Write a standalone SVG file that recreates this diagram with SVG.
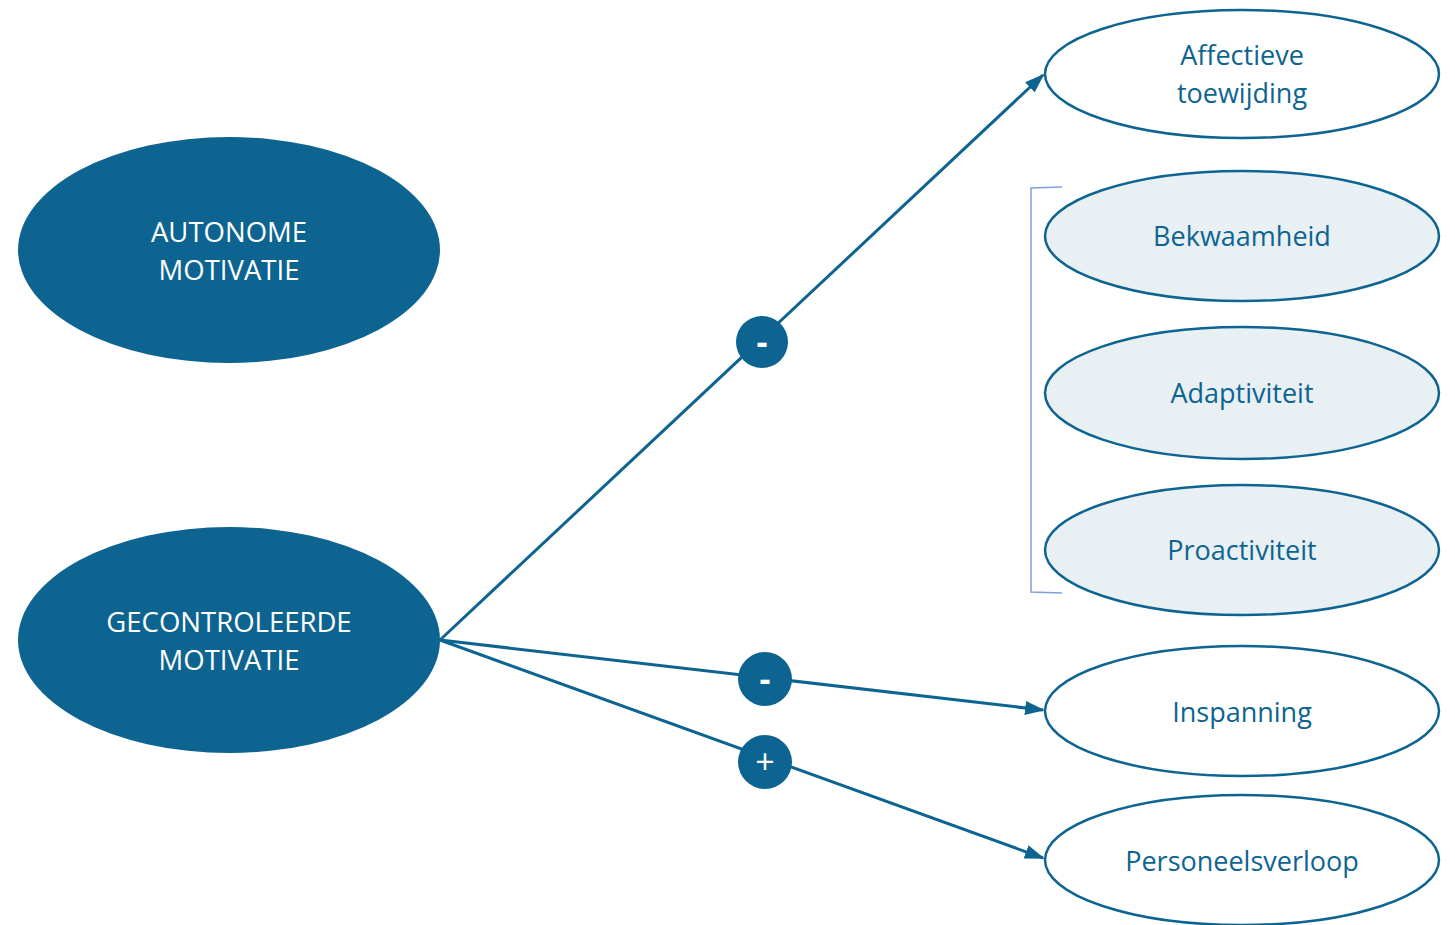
<svg xmlns="http://www.w3.org/2000/svg" width="1455" height="925" viewBox="0 0 1455 925">
<style>
.big{fill:#0E6490;}
.bigt{fill:#ffffff;font-family:"Open Sans",sans-serif;font-size:27.5px;text-anchor:middle;}
.out{fill:#ffffff;stroke:#0E6490;stroke-width:2.5;}
.med{fill:#E8F0F4;stroke:#0E6490;stroke-width:2.5;}
.t{fill:#0E6490;font-family:"Open Sans",sans-serif;font-size:27px;text-anchor:middle;}
.ln{stroke:#0E6490;stroke-width:3;fill:none;}
.badge{fill:#0E6490;}
.bt{fill:#ffffff;font-family:"Open Sans",sans-serif;font-size:34px;text-anchor:middle;}
</style>
<defs>
<marker id="ah" markerWidth="20" markerHeight="14" refX="18" refY="7" orient="auto" markerUnits="userSpaceOnUse" viewBox="0 0 20 14">
<path d="M0,0 L20,7 L0,14 z" fill="#0E6490"/>
</marker>
</defs>
<rect width="1455" height="925" fill="#ffffff"/>
<g id="connectors">
<line class="ln" x1="440" y1="640" x2="1043" y2="75" marker-end="url(#ah)"/>
<line class="ln" x1="440" y1="640" x2="1043" y2="710" marker-end="url(#ah)"/>
<line class="ln" x1="440" y1="640" x2="1043" y2="858" marker-end="url(#ah)"/>
<path d="M1062,187 L1031,188 L1031,592 L1062,593" fill="none" stroke="#7F9FDB" stroke-width="1.5"/>
</g>
<g id="badge1"><circle class="badge" cx="762" cy="342" r="26"/><text class="bt" x="762" y="354" font-weight="bold">-</text></g>
<g id="badge2"><circle class="badge" cx="765" cy="679" r="27"/><text class="bt" x="765" y="691" font-weight="bold">-</text></g>
<g id="badge3"><circle class="badge" cx="765" cy="762" r="27"/><text class="bt" x="765" y="774">+</text></g>
<g id="autonome"><ellipse class="big" cx="229" cy="250" rx="211" ry="113"/>
<text class="bigt" x="229" y="242">AUTONOME</text><text class="bigt" x="229" y="280">MOTIVATIE</text></g>
<g id="gecontroleerde"><ellipse class="big" cx="229" cy="640" rx="211" ry="113"/>
<text class="bigt" x="229" y="632">GECONTROLEERDE</text><text class="bigt" x="229" y="670">MOTIVATIE</text></g>
<g id="affectieve"><ellipse class="out" cx="1242" cy="74" rx="197" ry="64"/>
<text class="t" x="1242" y="65">Affectieve</text><text class="t" x="1242" y="103">toewijding</text></g>
<g id="bekwaamheid"><ellipse class="med" cx="1242" cy="236" rx="197" ry="65"/>
<text class="t" x="1242" y="246">Bekwaamheid</text></g>
<g id="adaptiviteit"><ellipse class="med" cx="1242" cy="393" rx="197" ry="66"/>
<text class="t" x="1242" y="403">Adaptiviteit</text></g>
<g id="proactiviteit"><ellipse class="med" cx="1242" cy="550" rx="197" ry="65"/>
<text class="t" x="1242" y="560">Proactiviteit</text></g>
<g id="inspanning"><ellipse class="out" cx="1242" cy="711" rx="197" ry="65"/>
<text class="t" x="1242" y="722">Inspanning</text></g>
<g id="personeelsverloop"><ellipse class="out" cx="1242" cy="860" rx="197" ry="65"/>
<text class="t" x="1242" y="871">Personeelsverloop</text></g>
</svg>
